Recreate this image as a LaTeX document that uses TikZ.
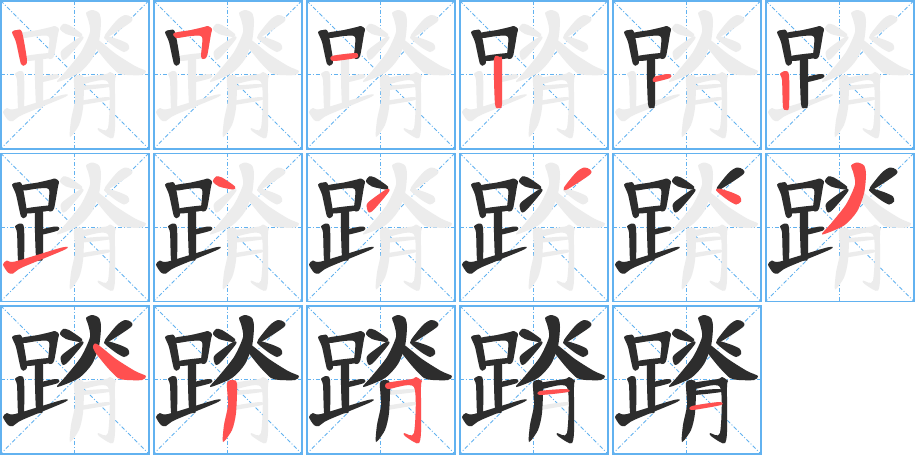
\documentclass[tikz,border=0pt]{standalone}
\usetikzlibrary{calc}
\definecolor{gridblue}{RGB}{98,178,240}
\definecolor{inkred}{RGB}{255,80,80}
\definecolor{inkblack}{RGB}{45,45,45}
\definecolor{inkgray}{RGB}{236,236,236}
% Strokes of the character, in cell coordinates
\def\huapath#1{plot[smooth cycle,tension=0.45] coordinates {#1}}
\expandafter\def\csname hua1\endcsname{\huapath{(12,32) (17,30) (22,32) (27,60) (25,65) (21,64) (16,42)}}
\expandafter\def\csname hua2\endcsname{\huapath{(21,33) (38,30) (51,27) (55,26) (59,29) (58,34) (54,56) (50,59) (48,56) (49,37) (38,36) (23,38)}}
\expandafter\def\csname hua3\endcsname{\huapath{(26,56) (49,53) (52,55) (50,58) (27,61)}}
\expandafter\def\csname hua4\endcsname{\huapath{(35,59) (41,57) (43,60) (43,104) (40,108) (36,104)}}
\expandafter\def\csname hua5\endcsname{\huapath{(42,77) (55,74) (59,75) (58,78) (42,82)}}
\expandafter\def\csname hua6\endcsname{\huapath{(15,74) (20,71) (24,75) (24,107) (21,110) (18,107) (17,80)}}
\expandafter\def\csname hua7\endcsname{\huapath{(3,112) (7,108) (15,109) (62,95) (65,97) (22,115) (13,121) (8,120)}}
\expandafter\def\csname hua8\endcsname{\huapath{(60,29) (63,24) (69,25) (82,34) (80,37) (66,34)}}
\expandafter\def\csname hua9\endcsname{\huapath{(61,56) (62,50) (80,37) (83,39) (68,57) (63,60)}}
\expandafter\def\csname hua10\endcsname{\huapath{(105,35) (117,20) (125,15) (131,17) (131,22) (108,37)}}
\expandafter\def\csname hua11\endcsname{\huapath{(104,38) (107,36) (120,40) (128,44) (129,49) (124,52) (115,47)}}
\expandafter\def\csname hua12\endcsname{\huapath{(86,13) (92,10) (99,13) (101,22) (99,41) (92,59) (79,73) (57,82) (66,71) (81,52) (90,32) (88,19)}}
\expandafter\def\csname hua13\endcsname{\huapath{(93,41) (97,39) (116,54) (135,66) (146,71) (142,75) (127,75) (118,73) (107,62) (95,47)}}
\expandafter\def\csname hua14\endcsname{\huapath{(74,78) (80,75) (84,79) (83,108) (79,125) (70,137) (71,120) (75,100)}}
\expandafter\def\csname hua15\endcsname{\huapath{(81,78) (106,74) (110,72) (116,76) (115,81) (115,127) (113,138) (108,137) (99,131) (98,128) (108,128) (108,82) (82,84)}}
\expandafter\def\csname hua16\endcsname{\huapath{(81,86) (107,84) (109,87) (81,90)}}
\expandafter\def\csname hua17\endcsname{\huapath{(80,101) (107,97) (109,100) (80,105)}}

\tikzset{
cellborder/.style={draw=gridblue, line width=1.5pt},
cellguide/.style={draw=gridblue, line width=0.8pt, dash pattern=on 4pt off 2pt on 1pt off 2pt},
}

\begin{document}
\begin{tikzpicture}[x=1pt,y=-1pt]
\useasboundingbox[fill=white] (0,0) rectangle (915,456);
% Cells
\foreach \k in {1,...,17}{
  \pgfmathtruncatemacro\col{mod(\k-1,6)}
  \pgfmathtruncatemacro\row{div(\k-1,6)}
  \begin{scope}[shift={(153*\col,152.5*\row)}]
    \draw[cellguide] (0.75,0.75) -- (148.75,148.75);
    \draw[cellguide] (148.75,0.75) -- (0.75,148.75);
    \draw[cellguide] (74.75,0.75) -- (74.75,148.75);
    \draw[cellguide] (0.75,74.75) -- (148.75,74.75);
    % whole character in grey
    \foreach \j in {1,...,17}{
      \fill[inkgray] \csname hua\j\endcsname;
    }
    % strokes written so far
    \foreach \j in {1,...,\k}{
      \ifnum\j<\k \def\inkc{inkblack}\else\def\inkc{inkred}\fi
      \fill[\inkc] \csname hua\j\endcsname;
    }
    \draw[cellborder] (0.75,0.75) rectangle (148.75,148.75);
  \end{scope}
}
\end{tikzpicture}
\end{document}
